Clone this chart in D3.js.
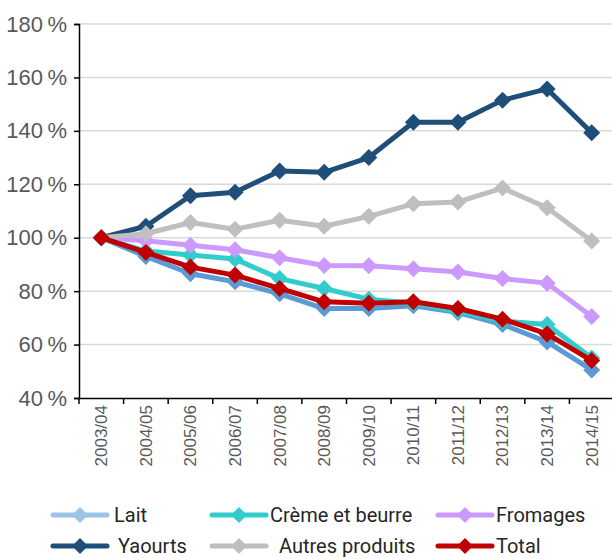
<!DOCTYPE html>
<html><head><meta charset="utf-8">
<script src="https://cdn.jsdelivr.net/npm/d3@7"></script>
<style>
html,body{margin:0;padding:0;background:#fff;}
svg{display:block;font-family:Roboto, "Noto Sans", sans-serif;}
</style></head>
<body><svg id="c" width="612" height="559"></svg>
<script>
const categories = ["2003/04","2004/05","2005/06","2006/07","2007/08","2008/09","2009/10","2010/11","2011/12","2012/13","2013/14","2014/15"];
const lait     = [100, 93, 86.5, 83.5, 79, 73.5, 73.5, 74.5, 72, 67.5, 61, 50.5];
const creme    = [100, 95, 93.5, 92, 84.7, 81, 77, 75.5, 72.5, 68.8, 67.5, 55];
const fromages = [100, 98.9, 97.2, 95.5, 92.5, 89.6, 89.5, 88.4, 87.2, 84.7, 83, 70.5];
const yaourts  = [100, 104.3, 115.7, 117, 125, 124.5, 130, 143.2, 143.2, 151.5, 155.7, 139.3];
const autres   = [100, 101.5, 105.7, 103.2, 106.5, 104.3, 108, 112.7, 113.4, 118.6, 111.2, 98.8];
const total    = [100, 94.5, 89, 86, 81, 76, 75.5, 76, 73.5, 69.5, 64, 54];
const yTicks   = [40, 60, 80, 100, 120, 140, 160, 180];
const seriesNames = ["Lait","Crème et beurre","Fromages","Yaourts","Autres produits","Total"];

const series = [
  {name:seriesNames[0], values:lait,     color:"#5b9bd5", legendColor:"#9dc3e6"},
  {name:seriesNames[1], values:creme,    color:"#33cccc", legendColor:"#33cccc"},
  {name:seriesNames[2], values:fromages, color:"#cc99ff", legendColor:"#cc99ff"},
  {name:seriesNames[3], values:yaourts,  color:"#1f4e79", legendColor:"#1f4e79"},
  {name:seriesNames[4], values:autres,   color:"#bfbfbf", legendColor:"#bfbfbf"},
  {name:seriesNames[5], values:total,    color:"#c00000", legendColor:"#c00000"}
];

const svg = d3.select("#c");
const mLeft = 79, mRight = 614, mTop = 24, mBottom = 398;
const x = d3.scaleBand().domain(categories).range([mLeft, mRight]);
const y = d3.scaleLinear().domain([40,180]).range([mBottom, mTop]);

// gridlines
svg.append("g").selectAll("line").data(yTicks.filter(d=>d>40)).join("line")
  .attr("x1", mLeft).attr("x2", 612)
  .attr("y1", d=>y(d)).attr("y2", d=>y(d))
  .attr("stroke", "#d9d9d9").attr("stroke-width", 1.5);

// y axis
const yAxis = svg.append("g").attr("transform", `translate(${mLeft},0)`)
  .call(d3.axisLeft(y).tickValues(yTicks).tickSize(5).tickPadding(7).tickFormat(d => d + "\u2009%"));
yAxis.select(".domain").attr("stroke","#000").attr("stroke-width",1.5);
yAxis.selectAll(".tick line").attr("stroke","#000").attr("stroke-width",1.5);
yAxis.selectAll("text").attr("fill","#595959").style("font-size","22px").style("font-weight","300");

// x axis
const xAxis = svg.append("g").attr("transform", `translate(0,${mBottom})`)
  .call(d3.axisBottom(x).tickSize(0).tickSizeOuter(0));
xAxis.select(".domain").attr("stroke","#000").attr("stroke-width",1.5);
xAxis.selectAll(".tick text")
  .attr("transform","rotate(-90)")
  .attr("x", -7).attr("y", 0).attr("dy","0.35em")
  .attr("text-anchor","end")
  .attr("fill","#595959").style("font-size","17px").style("font-weight","300");
// boundary ticks
svg.append("g").selectAll("line").data(categories.map((c,i)=>i)).join("line")
  .attr("x1", i => mLeft + i*x.step()).attr("x2", i => mLeft + i*x.step())
  .attr("y1", mBottom).attr("y2", mBottom+6)
  .attr("stroke","#000").attr("stroke-width",1.5);

const cx = c => x(c) + x.bandwidth()/2;
const line = d3.line().x((d,i)=>cx(categories[i])).y(d=>y(d));
const diamondPath = (r) => `M0,${-r}L${r},0L0,${r}L${-r},0Z`;

const g = svg.append("g");
series.forEach(s => {
  g.append("path").datum(s.values).attr("d", line)
    .attr("fill","none").attr("stroke", s.color).attr("stroke-width", 5)
    .attr("stroke-linejoin","round");
  g.append("g").selectAll("path").data(s.values).join("path")
    .attr("transform",(d,i)=>`translate(${cx(categories[i])},${y(d)})`)
    .attr("d", diamondPath(8.5)).attr("fill", s.color);
});

// legend
const legendPos = [
  {lx:53, tx:114, ty:515},
  {lx:212, tx:270, ty:515},
  {lx:438, tx:496, ty:515},
  {lx:53, tx:118, ty:546},
  {lx:212, tx:279, ty:546},
  {lx:438, tx:496, ty:546}
];
const lg = svg.append("g");
series.forEach((s,i) => {
  const p = legendPos[i];
  lg.append("line").attr("x1", p.lx).attr("x2", p.lx+54).attr("y1", p.ty).attr("y2", p.ty)
    .attr("stroke", s.legendColor).attr("stroke-width", 5).attr("stroke-linecap","round");
  lg.append("path").attr("transform", `translate(${p.lx+27},${p.ty})`).attr("d", diamondPath(8)).attr("fill", s.legendColor);
  lg.append("text").attr("x", p.tx).attr("y", p.ty).attr("dy","0.35em")
    .attr("fill","#262626").style("font-size","20px").text(s.name);
});
</script></body></html>
